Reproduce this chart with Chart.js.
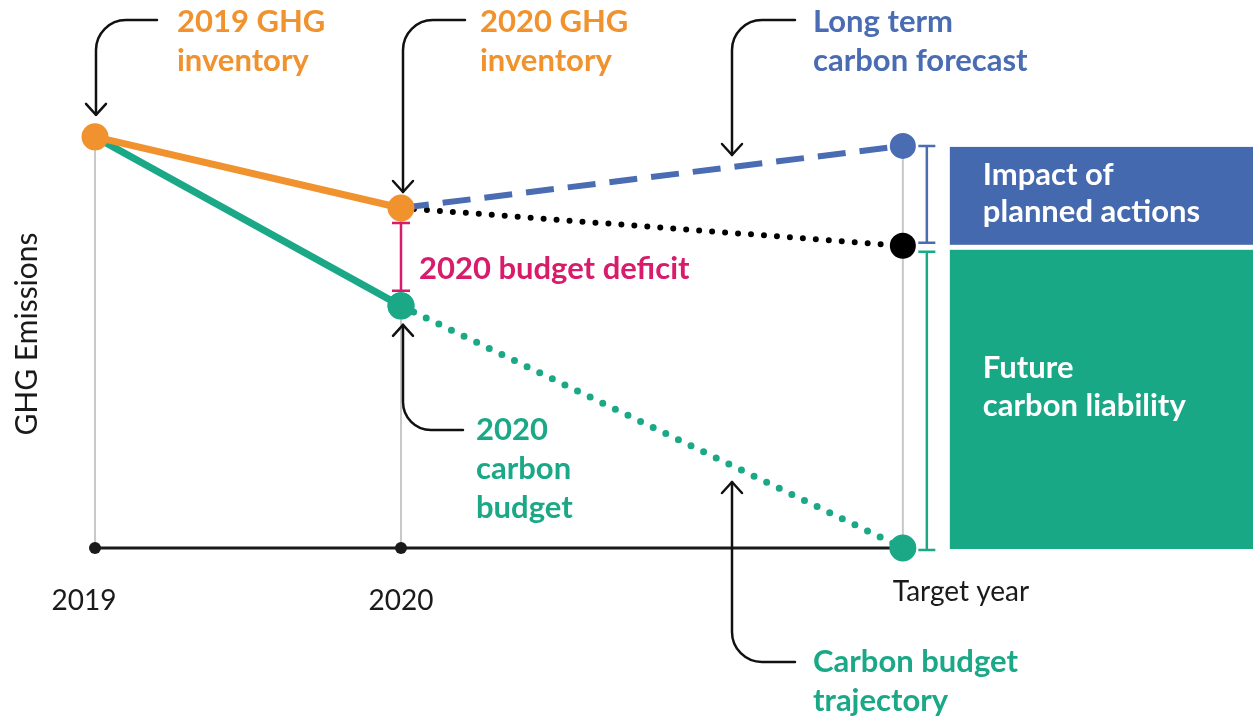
<!DOCTYPE html>
<html>
<head>
<meta charset="utf-8">
<script src="https://cdn.jsdelivr.net/npm/chart.js@4.4.1/dist/chart.umd.min.js"></script>
<style>
  html, body { margin: 0; padding: 0; background: #fff; overflow: hidden; }
  #wrap { width: 1253px; height: 718px; }
  canvas { display: block; }
</style>
</head>
<body>
<div id="wrap"><canvas id="myChart"></canvas></div>
<script>
const ctx = document.getElementById('myChart')

// x positions: 2019, 2020, target year
const labels = ['2019', '2020', 'Target year']
const xPos = [0, 1, 2.64]

// GHG emissions (index, 2019 inventory = 100)
const inventory = [100, 82.7]          // 2019 -> 2020
const carbonBudget = [100, 58.9]       // 2019 -> 2020
const budgetTrajectory = [58.9, 0]     // 2020 -> target year
const longTermForecast = [82.7, 97.8]  // 2020 -> target year
const plannedActions = [82.7, 73.5]    // 2020 -> target year

const ORANGE = '#f0922e'
const GREEN = '#1ba886'
const BLUE = '#4a6cb3'
const MAGENTA = '#d81b6a'
const INK = '#1a1a1a'
const FONT = 'Lato'

const pts = (xs, ys) => xs.map((x, i) => ({ x: x, y: ys[i] }))

// grey drop lines from each point down to the axis
const dropTops = [inventory[0], inventory[1], longTermForecast[1]]
const dropLines = []
xPos.forEach((x, i) => {
  dropLines.push({ x: x, y: 0 }, { x: x, y: dropTops[i] }, { x: x, y: null })
})

const data = {
  datasets: [
    {
      label: 'GHG inventory',
      data: pts([xPos[0], xPos[1]], inventory),
      borderColor: ORANGE, backgroundColor: ORANGE,
      borderWidth: 7, pointRadius: 10, order: 1
    },
    {
      label: 'axis dots',
      data: pts([xPos[0], xPos[1]], [0, 0]),
      showLine: false, backgroundColor: INK, borderColor: INK,
      pointRadius: 6, order: 2
    },
    {
      label: 'Long term carbon forecast',
      data: pts([xPos[1], xPos[2]], longTermForecast),
      borderColor: BLUE, backgroundColor: BLUE,
      borderWidth: 6, borderDash: [28, 14], pointRadius: [0, 10], order: 3
    },
    {
      label: 'With planned actions',
      data: pts([xPos[1], xPos[2]], plannedActions),
      borderColor: '#000', backgroundColor: '#000',
      borderWidth: 6, borderDash: [0, 13], borderCapStyle: 'round',
      pointRadius: [0, 10], order: 4
    },
    {
      label: 'Carbon budget trajectory',
      data: pts([xPos[1], xPos[2]], budgetTrajectory),
      borderColor: GREEN, backgroundColor: GREEN,
      borderWidth: 7, borderDash: [0, 14], borderCapStyle: 'round',
      pointRadius: [10, 10], order: 5
    },
    {
      label: 'Carbon budget',
      data: pts([xPos[0], xPos[1]], carbonBudget),
      borderColor: GREEN, backgroundColor: GREEN,
      borderWidth: 7, pointRadius: [0, 10], order: 6
    },
    {
      label: 'baseline',
      data: pts([xPos[0], xPos[2]], [0, 0]),
      borderColor: INK, borderWidth: 3, pointRadius: 0, order: 7
    },
    {
      label: 'drop lines',
      data: dropLines,
      borderColor: '#c8c8c8', borderWidth: 2, pointRadius: 0,
      spanGaps: false, order: 8
    }
  ]
}

function elbowArrow(c, x1, y1, x2, y2, r) {
  c.beginPath()
  c.moveTo(x1, y1)
  c.arcTo(x2, y1, x2, y2, r)
  c.lineTo(x2, y2)
  c.stroke()
  const d = y2 > y1 ? 1 : -1
  c.beginPath()
  c.moveTo(x2 - 10, y2 - d * 11)
  c.lineTo(x2, y2)
  c.lineTo(x2 + 10, y2 - d * 11)
  c.stroke()
}

function bracket(c, x, y1, y2, w, color) {
  c.strokeStyle = color
  c.lineWidth = 2.5
  c.beginPath()
  c.moveTo(x, y1); c.lineTo(x, y2)
  c.moveTo(x - w / 2, y1); c.lineTo(x + w / 2, y1)
  c.moveTo(x - w / 2, y2); c.lineTo(x + w / 2, y2)
  c.stroke()
}

function lines(c, list, x, y, step, color, font) {
  c.fillStyle = color
  c.font = font
  list.forEach((t, i) => c.fillText(t, x, y + i * step))
}

const annotate = {
  id: 'annotate',
  afterDraw(chart) {
    const c = chart.ctx
    const X = v => chart.scales.x.getPixelForValue(v)
    const Y = v => chart.scales.y.getPixelForValue(v)
    const x19 = X(xPos[0]), x20 = X(xPos[1]), xT = X(xPos[2])
    const yBlue = Y(longTermForecast[1]), yBlack = Y(plannedActions[1]), y0 = Y(0)
    c.save()

    // right hand boxes
    const boxL = xT + 47
    c.fillStyle = '#4469af'
    c.fillRect(boxL, yBlue + 1, chart.width - boxL, yBlack - yBlue - 2)
    c.fillStyle = '#19a886'
    c.fillRect(boxL, yBlack + 4, chart.width - boxL, y0 - yBlack - 3)

    c.textBaseline = 'middle'
    c.textAlign = 'left'
    const bold = 'bold 31px ' + FONT
    lines(c, ['Impact of', 'planned actions'], boxL + 33, yBlue + 29, 37, '#fff', bold)
    lines(c, ['Future', 'carbon liability'], boxL + 33, yBlack + 122, 38, '#fff', bold)

    // brackets
    bracket(c, xT + 24, yBlue, yBlack - 3, 17, BLUE)
    bracket(c, xT + 24, yBlack + 6, y0 + 2, 17, GREEN)
    bracket(c, x20, Y(inventory[1]) + 15, Y(carbonBudget[1]) - 15, 18, MAGENTA)

    // callout arrows
    c.strokeStyle = '#111'
    c.lineWidth = 2.5
    c.lineCap = 'round'
    c.lineJoin = 'round'
    elbowArrow(c, x19 + 62, 20, x19 + 1, Y(inventory[0]) - 22, 30)
    elbowArrow(c, x20 + 64, 20, x20 + 2, Y(inventory[1]) - 16, 30)
    elbowArrow(c, x20 + 394, 20, x20 + 331, Y(longTermForecast[0]) - 53, 30)
    elbowArrow(c, x20 + 62, 430, x20 + 2, Y(carbonBudget[1]) + 19, 28)
    elbowArrow(c, x20 + 394, 662, x20 + 331, Y(budgetTrajectory[1]) - 66, 30)

    // callout labels
    lines(c, ['2019 GHG', 'inventory'], x19 + 82, 22, 39, ORANGE, bold)
    lines(c, ['2020 GHG', 'inventory'], x20 + 79, 22, 39, ORANGE, bold)
    lines(c, ['Long term', 'carbon forecast'], x20 + 412, 22, 39, BLUE, bold)
    lines(c, ['2020 budget deficit'], x20 + 18, 269, 0, MAGENTA, bold)
    lines(c, ['2020', 'carbon', 'budget'], x20 + 75, 430, 39, GREEN, bold)
    lines(c, ['Carbon budget', 'trajectory'], x20 + 412, 662, 39, GREEN, bold)

    // x labels
    c.fillStyle = INK
    c.font = '28px ' + FONT
    c.textAlign = 'center'
    c.fillText(labels[0], x19 - 11, y0 + 53)
    c.fillText(labels[1], x20, y0 + 53)
    c.textAlign = 'left'
    c.fillText(labels[2], xT - 10, y0 + 44)
    c.restore()
  }
}

const config = {
  type: 'line',
  data: data,
  options: {
    responsive: true,
    maintainAspectRatio: false,
    animation: false,
    layout: { autoPadding: false, padding: { top: 120, bottom: 170, left: 0, right: 0 } },
    plugins: { legend: { display: false }, tooltip: { enabled: false } },
    elements: { line: { tension: 0 }, point: { borderWidth: 0 } },
    datasets: { line: { clip: false } },
    scales: {
      x: { type: 'linear', min: -0.1405, max: 3.7843, display: false },
      y: {
        min: 0, max: 104.1,
        ticks: { display: false },
        grid: { display: false },
        border: { display: false },
        afterFit: s => { s.width = 52 },
        title: {
          display: true, text: 'GHG Emissions', color: INK,
          font: { family: FONT, size: 30 },
          padding: { top: 9, bottom: 0 }
        }
      }
    }
  },
  plugins: [annotate]
}

const myChart = new Chart(ctx, config)
</script>
</body>
</html>
